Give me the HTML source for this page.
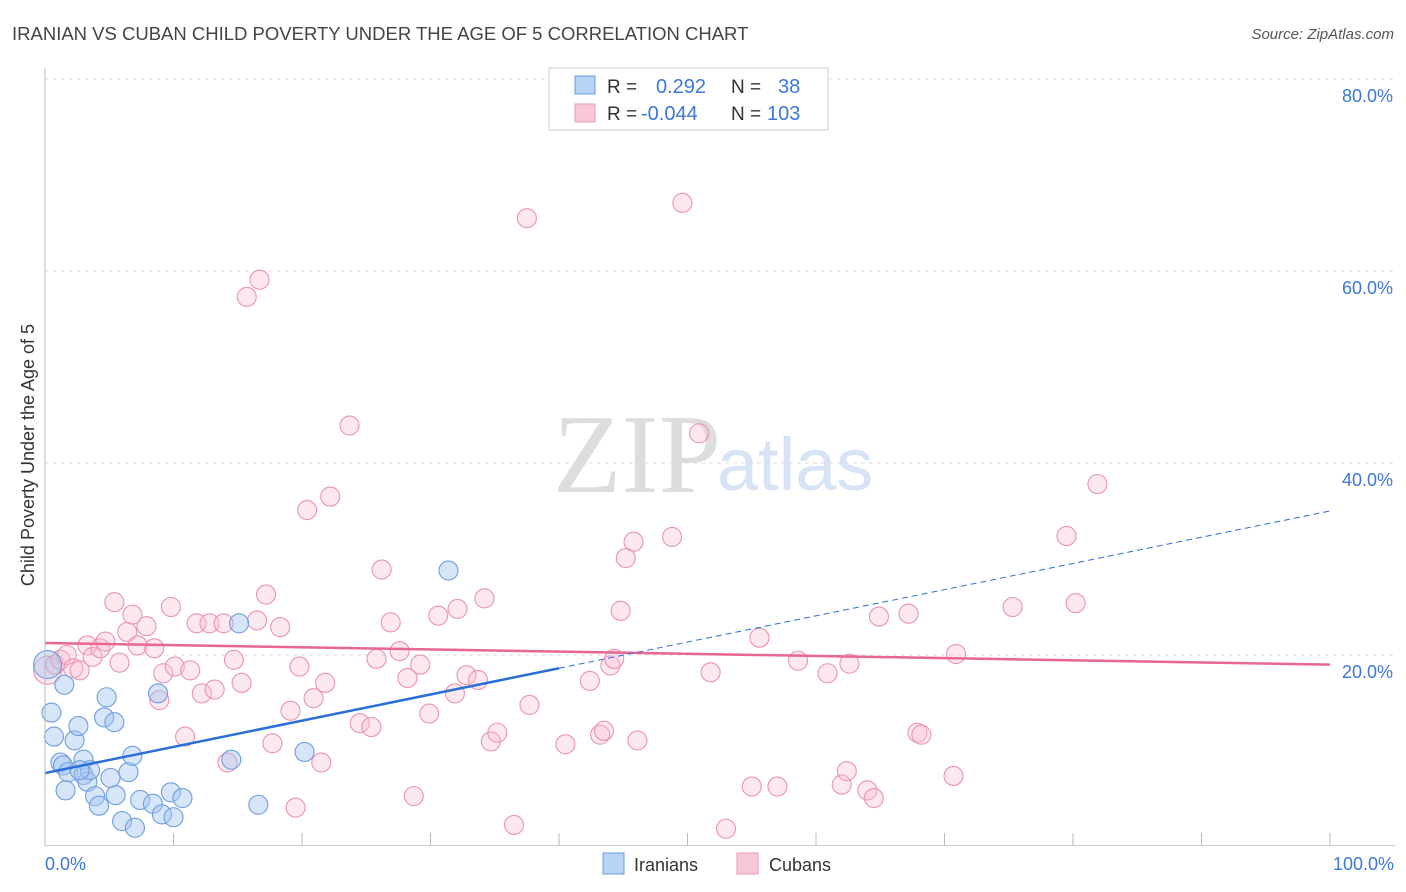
<!DOCTYPE html>
<html><head><meta charset="utf-8"><style>
body{margin:0;background:#fff;font-family:"Liberation Sans",sans-serif}
svg{display:block}
</style></head><body>
<svg id="chart" width="1406" height="892">
<text x="12" y="40" font-size="18.5" fill="#444">IRANIAN VS CUBAN CHILD POVERTY UNDER THE AGE OF 5 CORRELATION CHART</text>
<text x="1394" y="39" font-size="15" fill="#555" text-anchor="end" font-style="italic">Source: ZipAtlas.com</text>
<text x="553" y="492" font-size="112" fill="#ddd" font-family="Liberation Serif,serif">ZIP</text>
<text x="717" y="490" font-size="74" fill="#d6e4f5">atlas</text>
<text transform="translate(34,455) rotate(-90)" font-size="18" fill="#333" text-anchor="middle">Child Poverty Under the Age of 5</text>
<g id="grid"></g><g id="ticks"></g><g id="pts"></g><g id="trend"></g>
<line x1="45" y1="68" x2="45" y2="846" stroke="#bbb"/>
<line x1="45" y1="845.5" x2="1395" y2="845.5" stroke="#ccc"/>
<text x="45" y="870" font-size="18" fill="#3b78d8">0.0%</text>
<text x="1394" y="870" font-size="18" fill="#3b78d8" text-anchor="end">100.0%</text>
<g>
<rect x="549" y="68" width="279" height="62" fill="#fff" stroke="#ccc"/>
<rect x="575" y="76" width="20" height="18" fill="#b7d3f5" stroke="#6a9be0"/>
<rect x="575" y="104" width="20" height="18" fill="#f9c8d8" stroke="#e99ab5"/>
<text x="607" y="93" font-size="19" fill="#333">R = </text><text x="656" y="93" font-size="20" fill="#3b78d8">0.292</text>
<text x="731" y="93" font-size="19" fill="#333">N = </text><text x="778" y="93" font-size="20" fill="#3b78d8">38</text>
<text x="607" y="120" font-size="19" fill="#333">R = </text><text x="641" y="120" font-size="20" fill="#3b78d8">-0.044</text>
<text x="731" y="120" font-size="19" fill="#333">N = </text><text x="767" y="120" font-size="20" fill="#3b78d8">103</text>
</g>
<g>
<rect x="603" y="853" width="21" height="21" fill="#b7d3f5" stroke="#6a9be0"/>
<text x="634" y="871" font-size="18" fill="#333">Iranians</text>
<rect x="737" y="853" width="21" height="21" fill="#f9c8d8" stroke="#e99ab5"/>
<text x="769" y="871" font-size="18" fill="#333">Cubans</text>
</g>
</svg>
<script>
const yTicks=[20,40,60,80];
const xTickVals=[10,20,30,40,50,60,70,80,90];
const iranX=[0.2,0.5,0.7,1.2,1.4,1.5,1.8,2.3,2.6,3.0,3.0,3.3,3.5,3.9,4.2,4.8,4.6,5.4,5.1,5.5,6.0,6.5,6.8,7.0,7.4,8.4,8.8,9.1,9.8,10.0,10.7,14.5,15.1,16.6,20.2,31.4,2.7,1.6];
const iranY=[19.0,14.0,11.5,8.8,8.5,16.9,7.8,11.1,12.6,9.1,7.5,6.8,8.0,5.3,4.3,15.6,13.5,13.0,7.2,5.4,2.7,7.8,9.5,2.0,4.9,4.5,16.0,3.4,5.7,3.1,5.1,9.1,23.3,4.4,9.9,28.8,8.0,5.9];
const cubaX=[0.2,0.8,1.2,1.7,2.2,2.7,3.3,3.7,4.3,4.7,5.4,5.8,6.4,6.8,7.2,7.9,8.5,8.9,9.2,9.8,10.1,10.9,11.3,11.8,12.2,12.8,13.2,13.9,14.2,14.7,15.3,15.7,16.5,16.7,17.2,17.7,18.3,19.1,19.5,19.8,20.4,20.9,21.5,21.8,22.2,23.7,24.5,25.4,25.8,26.2,26.9,27.6,28.2,28.7,29.2,29.9,30.6,31.9,32.1,32.8,33.7,34.2,34.7,35.2,36.5,37.5,37.7,40.5,42.4,43.2,43.5,44.0,44.3,44.8,45.2,45.8,46.1,48.8,49.6,50.9,51.8,53.0,55.0,55.6,57.0,58.6,60.9,62.0,62.4,62.6,64.0,64.5,64.9,67.2,67.9,68.2,70.7,70.9,75.3,79.5,80.2,81.9];
const cubaY=[18.4,19.0,19.5,20.0,18.6,18.4,21.0,19.8,20.7,21.4,25.5,19.2,22.4,24.2,21.0,23.0,20.7,15.3,18.1,25.0,18.8,11.5,18.4,23.3,16.0,23.3,16.4,23.3,8.8,19.5,17.1,57.3,23.6,59.1,26.3,10.8,22.9,14.2,4.1,18.8,35.1,15.5,8.8,17.1,36.5,43.9,12.9,12.5,19.6,28.9,23.4,20.4,17.6,5.3,19.0,13.9,24.1,16.0,24.8,17.9,17.4,25.9,11.0,11.9,2.3,65.5,14.8,10.7,17.3,11.7,12.1,18.9,19.6,24.6,30.1,31.8,11.1,32.3,67.1,43.1,18.2,1.9,6.3,21.8,6.3,19.4,18.1,6.5,7.9,19.1,5.9,5.1,24.0,24.3,11.9,11.7,7.4,20.1,25.0,32.4,25.4,37.8];
const iranTrend=[7.7,35.0];
const cubaTrend=[21.25,19.0];
const iranSolidEnd=40;
const NS='http://www.w3.org/2000/svg';
const X=v=>45+v*12.85, Y=v=>847-v*9.6;
function mk(t,a,p){const e=document.createElementNS(NS,t);for(const k in a)e.setAttribute(k,a[k]);document.getElementById(p).appendChild(e);return e;}
yTicks.forEach(v=>{
 const l=mk('line',{x1:45,x2:1395,y1:Y(v),y2:Y(v),stroke:'#ddd','stroke-dasharray':'4,4'},'grid');
 
 
 const t=mk('text',{x:1393,y:Y(v)+23,'font-size':18,fill:'#3b78d8','text-anchor':'end'},'grid');
 t.textContent=v.toFixed(1)+'%';
 
 
});
xTickVals.concat([100]).forEach(v=>{
 const l=mk('line',{x1:X(v),x2:X(v),y1:833,y2:845,stroke:'#bbb'},'ticks');
 
 
});
function dot(x,y,r,fill,stroke,name){
 const c=mk('circle',{cx:X(x),cy:Y(y),r:r,fill:fill,stroke:stroke,'stroke-width':1.1},'pts');
 
 
}
cubaX.forEach((x,i)=>dot(x,cubaY[i],i==0?14:9.5,'rgba(248,190,210,0.35)','#eb93b1','cuban-point'));
iranX.forEach((x,i)=>dot(x,iranY[i],i==0?14:9.5,'rgba(165,198,240,0.45)','#6e9ee0','iranian-point'));
const yAt=(a,x)=>a[0]+(a[1]-a[0])*x/100;
let l=mk('line',{x1:X(0),y1:Y(yAt(cubaTrend,0)),x2:X(100),y2:Y(yAt(cubaTrend,100)),stroke:'#e8668f','stroke-width':2.5},'trend');


l=mk('line',{x1:X(0),y1:Y(yAt(iranTrend,0)),x2:X(iranSolidEnd),y2:Y(yAt(iranTrend,iranSolidEnd)),stroke:'#2a6fd6','stroke-width':2.5},'trend');


l=mk('line',{x1:X(iranSolidEnd),y1:Y(yAt(iranTrend,iranSolidEnd)),x2:X(100),y2:Y(yAt(iranTrend,100)),stroke:'#2a6fd6','stroke-width':1,'stroke-dasharray':'6,4'},'trend');


</script>
</body></html>
